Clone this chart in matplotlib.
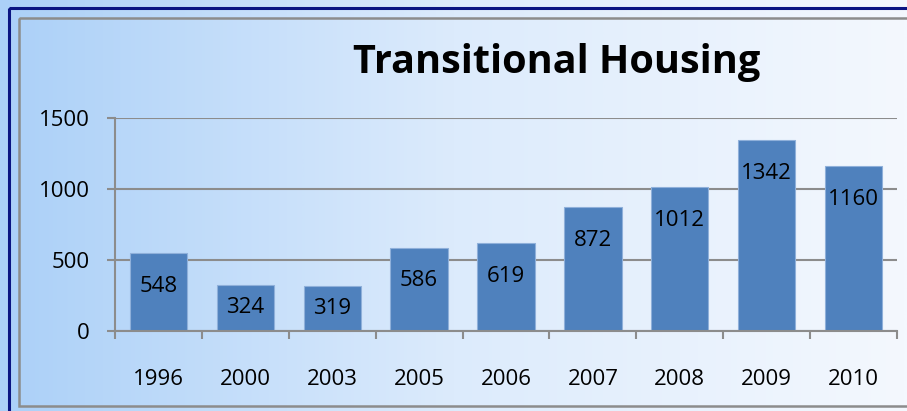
import numpy as np
import matplotlib
matplotlib.use('Agg')
import matplotlib.pyplot as plt
from matplotlib.patches import Rectangle
from matplotlib.colors import LinearSegmentedColormap

years = ['1996', '2000', '2003', '2005', '2006', '2007', '2008', '2009', '2010']
counts = [548, 324, 319, 586, 619, 872, 1012, 1342, 1160]
yticks = [0, 500, 1000, 1500]

W, H = 907, 411
fig = plt.figure(figsize=(W / 100, H / 100), dpi=100)

# gradient background over whole figure
bg = fig.add_axes([0, 0, 1, 1], zorder=-10)
cmap = LinearSegmentedColormap.from_list('bgc', ['#abd0f8', '#dcebfc', '#f4f8fe'])
grad = np.linspace(0, 1, 512).reshape(1, -1)
bg.imshow(grad, aspect='auto', cmap=cmap, extent=[0, W, 0, H])
bg.set_xlim(0, W)
bg.set_ylim(H, 0)
bg.axis('off')
# navy outer frame and grey inner frame
bg.add_patch(Rectangle((9, 8), W + 20, 450, fill=False, ec='#0a1482', lw=2.2))
bg.add_patch(Rectangle((19, 18), W + 20, 388, fill=False, ec='#8c8c8c', lw=1.8))

ax = fig.add_axes([115 / W, (H - 331) / H, (897 - 115) / W, (331 - 118) / H])
ax.patch.set_alpha(0)
x = np.arange(len(years))
bars = ax.bar(x, counts, width=0.66, color='#4f81bd', edgecolor='#8fb0da', lw=0.8, zorder=3)
ax.set_xlim(-0.5, len(years) - 0.5)
ax.set_ylim(0, 1500)
ax.set_yticks(yticks)
ax.grid(axis='y', color='#8c8c8c', lw=1.5, zorder=0)
for s in ['top', 'right']:
    ax.spines[s].set_visible(False)
for s in ['left', 'bottom']:
    ax.spines[s].set_color('#8c8c8c')
    ax.spines[s].set_linewidth(1.5)
    ax.spines[s].set_zorder(4)

ax.set_xticks(x)
ax.set_xticklabels(years)
ax.set_xticks(np.arange(-0.5, len(years)), minor=True)
ax.tick_params(axis='x', which='major', length=0, pad=27, labelsize=16)
ax.tick_params(axis='x', which='minor', length=6, width=1.5, color='#8c8c8c', direction='out')
ax.tick_params(axis='y', length=6, width=1.5, color='#8c8c8c', pad=12, labelsize=16)
for lab in ax.get_xticklabels() + ax.get_yticklabels():
    lab.set_fontfamily('Open Sans')

# value labels inside bars
ppd = 213 / 1500.0
for xi, v in zip(x, counts):
    off = min(33, v * ppd / 2) * 72 / 100.0
    ax.annotate(str(v), (xi, v), xytext=(0, -off), textcoords='offset points',
                ha='center', va='center', fontsize=16, family='Open Sans', zorder=5)

fig.text(557 / W, 1 - 63 / H, 'Transitional Housing', ha='center', va='center',
         fontsize=28.5, fontweight='bold', family='Open Sans')

fig.savefig('out.png', dpi=100)
